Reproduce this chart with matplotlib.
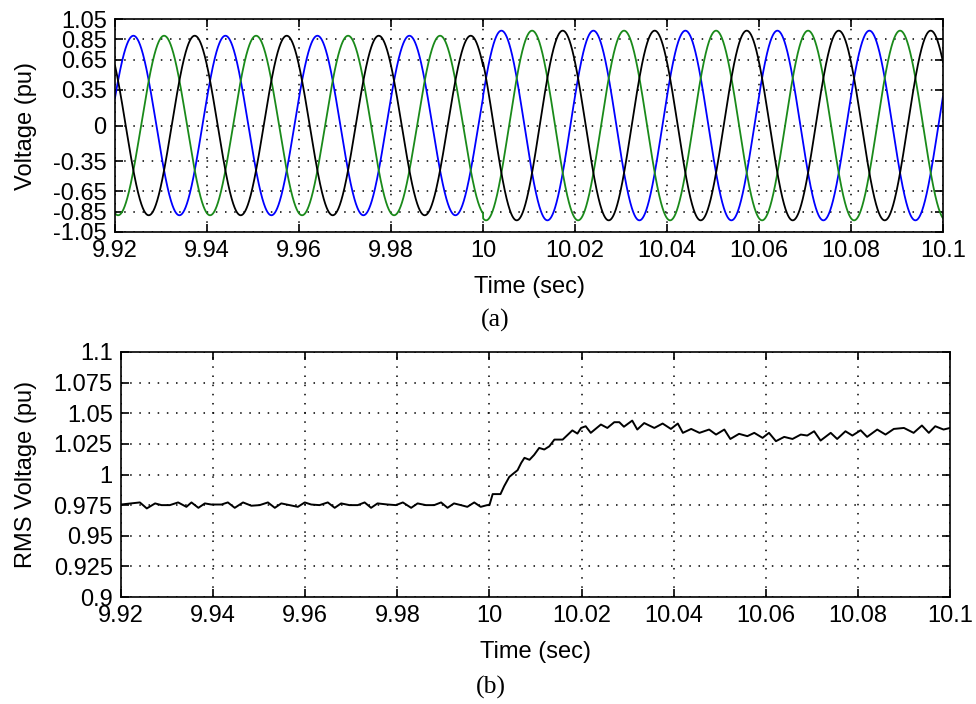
import numpy as np
import matplotlib
matplotlib.use("Agg")
import matplotlib.pyplot as plt

plt.rcParams["font.family"] = ["Liberation Sans", "DejaVu Sans"]

# three-phase source: 50 Hz, amplitude steps up at t = 10 s
FREQ = 50.0
AMP_BEFORE = 0.885
AMP_AFTER = 0.935
STEP_TIME = 10.0
PEAK_TIMES = [9.9240, 9.93067, 9.93733]   # first peak of blue, green, black
PHASE_COLORS = ["#0000ff", "#1a8a1a", "#000000"]

V_TICKS = [-1.05, -0.85, -0.65, -0.35, 0, 0.35, 0.65, 0.85, 1.05]
V_TICK_LABELS = ["-1.05", "-0.85", "-0.65", "-0.35", "0", "0.35", "0.65", "0.85", "1.05"]
T_TICKS = [9.92, 9.94, 9.96, 9.98, 10.0, 10.02, 10.04, 10.06, 10.08, 10.1]
T_TICK_LABELS = ["9.92", "9.94", "9.96", "9.98", "10", "10.02", "10.04", "10.06", "10.08", "10.1"]
RMS_TICKS = [0.9, 0.925, 0.95, 0.975, 1.0, 1.025, 1.05, 1.075, 1.1]
RMS_TICK_LABELS = ["0.9", "0.925", "0.95", "0.975", "1", "1.025", "1.05", "1.075", "1.1"]

# RMS voltage trace
rms_t = [
    9.9200, 9.9241, 9.9256, 9.9274, 9.9288, 9.9306, 9.9324, 9.9342, 9.9353, 9.9368,
    9.9382, 9.9396, 9.9418, 9.9432, 9.9447, 9.9465, 9.9483, 9.9501, 9.9519, 9.9534,
    9.9548, 9.9566, 9.9584, 9.9599, 9.9613, 9.9631, 9.9649, 9.9664, 9.9678, 9.9696,
    9.9714, 9.9729, 9.9743, 9.9757, 9.9779, 9.9797, 9.9812, 9.9830, 9.9844, 9.9862,
    9.9880, 9.9895, 9.9909, 9.9923, 9.9938, 9.9952, 9.9967, 9.9981, 9.9995, 10.0000,
    10.0007, 10.0024, 10.0032, 10.0043, 10.0054, 10.0061, 10.0069, 10.0076, 10.0087, 10.0097,
    10.0108, 10.0119, 10.0130, 10.0141, 10.0159, 10.0180, 10.0191, 10.0199, 10.0209, 10.0220,
    10.0242, 10.0256, 10.0271, 10.0282, 10.0292, 10.0310, 10.0321, 10.0336, 10.0358, 10.0376,
    10.0394, 10.0409, 10.0420, 10.0438, 10.0456, 10.0477, 10.0492, 10.0510, 10.0523, 10.0542,
    10.0560, 10.0575, 10.0593, 10.0607, 10.0622, 10.0640, 10.0658, 10.0676, 10.0690, 10.0705,
    10.0719, 10.0741, 10.0755, 10.0773, 10.0788, 10.0806, 10.0820, 10.0842, 10.0860, 10.0878,
    10.0900, 10.0921, 10.0939, 10.0954, 10.0968, 10.0986, 10.1000,
]
rms_v = [
    0.9755, 0.9772, 0.9723, 0.9764, 0.9750, 0.9750, 0.9772, 0.9736, 0.9772, 0.9728,
    0.9764, 0.9755, 0.9755, 0.9772, 0.9728, 0.9772, 0.9745, 0.9750, 0.9772, 0.9728,
    0.9764, 0.9750, 0.9736, 0.9772, 0.9755, 0.9750, 0.9772, 0.9728, 0.9764, 0.9750,
    0.9750, 0.9772, 0.9728, 0.9764, 0.9755, 0.9750, 0.9772, 0.9728, 0.9764, 0.9750,
    0.9750, 0.9772, 0.9728, 0.9764, 0.9750, 0.9736, 0.9772, 0.9736, 0.9750, 0.9750,
    0.9840, 0.9840, 0.9905, 0.9980, 1.0014, 1.0035, 1.0095, 1.0136, 1.0120, 1.0160,
    1.0217, 1.0204, 1.0230, 1.0285, 1.0285, 1.0360, 1.0334, 1.0380, 1.0394, 1.0340,
    1.0408, 1.0380, 1.0427, 1.0427, 1.0390, 1.0440, 1.0367, 1.0420, 1.0380, 1.0416,
    1.0372, 1.0416, 1.0340, 1.0372, 1.0340, 1.0367, 1.0326, 1.0367, 1.0290, 1.0332,
    1.0313, 1.0340, 1.0299, 1.0340, 1.0272, 1.0307, 1.0290, 1.0326, 1.0318, 1.0353,
    1.0277, 1.0340, 1.0290, 1.0353, 1.0318, 1.0361, 1.0307, 1.0367, 1.0326, 1.0372,
    1.0380, 1.0340, 1.0400, 1.0340, 1.0394, 1.0367, 1.0380,
]

GRID_STYLE = dict(color="k", linestyle=(0, (1, 5)), linewidth=1.1)
FS = 17


def style_axes(ax, yticks, ylabels, ylim):
    ax.set_xlim(9.92, 10.1)
    ax.set_ylim(*ylim)
    ax.set_xticks(T_TICKS)
    ax.set_xticklabels(T_TICK_LABELS)
    ax.set_yticks(yticks)
    ax.set_yticklabels(ylabels)
    ax.tick_params(direction="in", length=6, width=1.2, top=True, right=True,
                   labelsize=FS, pad=6)
    ax.grid(True, **GRID_STYLE)
    for s in ax.spines.values():
        s.set_linewidth(1.2)


fig = plt.figure(figsize=(9.76, 7.04), dpi=100)

# (a) phase voltages
ax1 = fig.add_axes([115 / 976, 1 - 232 / 704, 828 / 976, 213 / 704])
t = np.arange(9.92, 10.1 + 1e-9, 1e-5)
amp = np.where(t < STEP_TIME, AMP_BEFORE, AMP_AFTER)
for tp, c in zip(PEAK_TIMES, PHASE_COLORS):
    ax1.plot(t, amp * np.cos(2 * np.pi * FREQ * (t - tp)), color=c, lw=1.3)
style_axes(ax1, V_TICKS, V_TICK_LABELS, (-1.05, 1.05))
ax1.set_xlabel("Time (sec)", fontsize=FS)
ax1.set_ylabel("Voltage (pu)", fontsize=FS)
ax1.xaxis.set_label_coords(0.5, -0.205)
ax1.yaxis.set_label_coords(-0.094, 0.5)

# (b) RMS voltage
ax2 = fig.add_axes([121 / 976, 1 - 597 / 704, 829 / 976, 245 / 704])
ax2.plot(rms_t, rms_v, color="k", lw=1.4)
style_axes(ax2, RMS_TICKS, RMS_TICK_LABELS, (0.9, 1.1))
ax2.set_xlabel("Time (sec)", fontsize=FS)
ax2.set_ylabel("RMS Voltage (pu)", fontsize=FS)
ax2.xaxis.set_label_coords(0.5, -0.18)
ax2.yaxis.set_label_coords(-0.101, 0.5)

fig.text(0.507, 1 - 320 / 704, "(a)", fontsize=18.5, family="Liberation Serif",
         ha="center", va="center")
fig.text(0.503, 1 - 687 / 704, "(b)", fontsize=18.5, family="Liberation Serif",
         ha="center", va="center")

fig.savefig("out.png", dpi=100)
